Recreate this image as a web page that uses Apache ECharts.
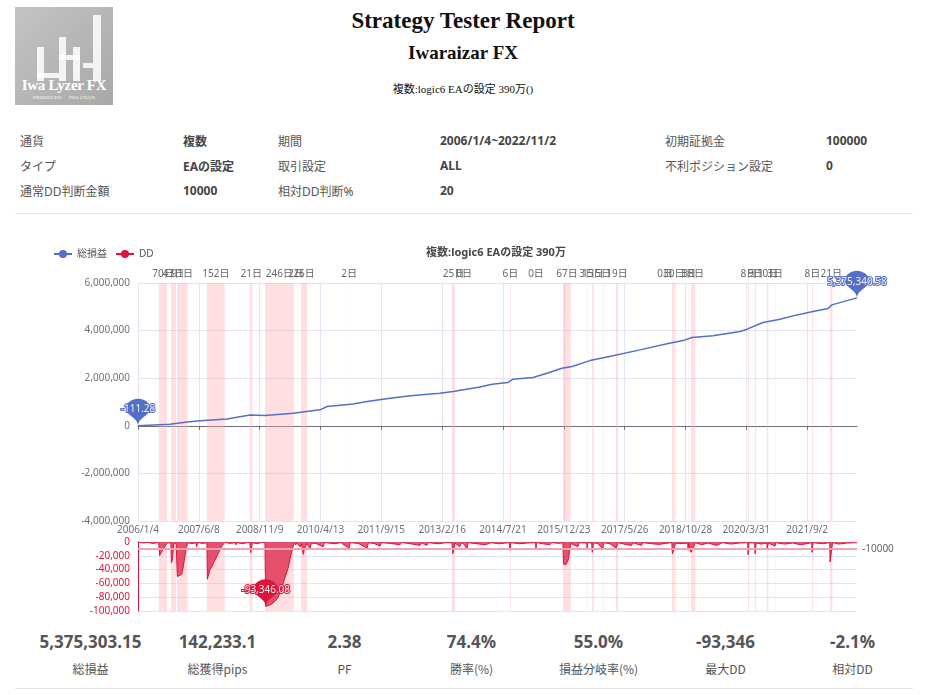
<!DOCTYPE html>
<html>
<head>
<meta charset="utf-8">
<script src="https://cdn.jsdelivr.net/npm/echarts@6/dist/echarts.min.js"></script>
<style>
body { margin: 0; width: 933px; height: 695px; background: #fff; position: relative; overflow: hidden;
       font-family: "Noto Sans", "Noto Sans CJK JP", sans-serif; color: #555; }
.abs { position: absolute; }
#logo { left: 15px; top: 7px; width: 98px; height: 98px; background: linear-gradient(135deg, #c4c4c4, #a8a8a8); overflow: hidden; }
#logo .bar { position: absolute; background: rgba(255,255,255,0.85); }
#logo .name { position: absolute; left: 0; width: 98px; top: 70px; text-align: center; color: #fff;
              font-family: "Liberation Serif", serif; font-weight: bold; font-size: 15px; letter-spacing: -0.3px; }
#logo .sub { position: absolute; left: 0; width: 98px; top: 88px; text-align: center; color: #fff;
             font-family: "Liberation Serif", serif; font-size: 5px; letter-spacing: 0.2px; }
.head { left: 0; width: 926px; text-align: center; color: #111; font-family: "Liberation Serif", serif; font-weight: bold; }
.info td { font-size: 12px; height: 25px; padding: 0; white-space: nowrap; }
.info td.v { font-weight: bold; color: #444; }
.rule { left: 15px; width: 898px; height: 1px; background: #e3e3e3; }
.stat { width: 127px; text-align: center; }
.stat .num { font-weight: bold; font-size: 17px; color: #555; }
.stat .lab { font-size: 12px; color: #555; margin-top: 7px; font-family: "Noto Sans CJK JP", sans-serif; }
</style>
</head>
<body>
<div id="logo" class="abs">
  <div class="bar" style="left:22px;top:40px;width:7px;height:34px;"></div>
  <div class="bar" style="left:22px;top:66px;width:22px;height:5px;"></div>
  <div class="bar" style="left:44px;top:30px;width:7px;height:44px;"></div>
  <div class="bar" style="left:58px;top:40px;width:7px;height:34px;"></div>
  <div class="bar" style="left:44px;top:48px;width:21px;height:5px;"></div>
  <div class="bar" style="left:78px;top:8px;width:8px;height:66px;"></div>
  <div class="bar" style="left:68px;top:56px;width:10px;height:5px;"></div>
  <div class="name">Iwa Lyzer FX</div>
  <div class="sub">PRODUCED &nbsp;&nbsp;&nbsp; IWA CHAN</div>
</div>
<div class="abs head" style="top:8px;font-size:23px;">Strategy Tester Report</div>
<div class="abs head" style="top:42px;font-size:19px;">Iwaraizar FX</div>
<div class="abs head" style="top:80px;font-size:11px;font-weight:normal;font-family:'Liberation Serif','Noto Sans CJK JP',serif;">複数:logic6 EAの設定 390万()</div>

<table class="abs info" style="left:20px;top:128px;border-collapse:collapse;font-family:'Noto Sans','Noto Sans CJK JP',sans-serif;">
  <tr><td style="width:163px">通貨</td><td class="v" style="width:95px">複数</td><td style="width:162px">期間</td><td class="v" style="width:225px">2006/1/4~2022/11/2</td><td style="width:161px">初期証拠金</td><td class="v">100000</td></tr>
  <tr><td>タイプ</td><td class="v">EAの設定</td><td>取引設定</td><td class="v">ALL</td><td>不利ポジション設定</td><td class="v">0</td></tr>
  <tr><td>通常DD判断金額</td><td class="v">10000</td><td>相対DD判断%</td><td class="v">20</td><td></td><td></td></tr>
</table>
<div class="abs rule" style="top:213px;"></div>

<div id="chart" class="abs" style="left:0;top:230px;width:933px;height:390px;"></div>

<div id="stats" class="abs" style="left:27px;top:630px;display:flex;"></div>
<div class="abs rule" style="top:688px;"></div>

<script>
// 日付カテゴリ (2006/1/4 ~ 2022/11/2 の毎日)
var startDay = Date.UTC(2006, 0, 4);
var endDay = Date.UTC(2022, 10, 2);
var days = [];
for (var t = startDay; t <= endDay; t += 86400000) {
    var d = new Date(t);
    days.push(d.getUTCFullYear() + '/' + (d.getUTCMonth() + 1) + '/' + d.getUTCDate());
}

// 総損益
var profitPoints = [
    ['2006/1/4', -111.28], ['2006/10/5', 70000], ['2007/2/27', 155000], ['2007/6/18', 210000],
    ['2008/2/4', 290000], ['2008/8/18', 450000], ['2008/12/25', 430000], ['2009/8/21', 530000],
    ['2010/4/9', 670000], ['2010/6/8', 810000], ['2011/1/16', 920000], ['2011/5/16', 1020000],
    ['2011/11/28', 1160000], ['2012/6/12', 1270000], ['2013/1/28', 1370000], ['2013/5/20', 1440000],
    ['2014/1/5', 1630000], ['2014/4/18', 1750000], ['2014/9/2', 1820000], ['2014/10/15', 1960000],
    ['2015/4/3', 2030000], ['2015/8/1', 2210000], ['2015/12/7', 2420000], ['2016/3/2', 2490000],
    ['2016/8/3', 2740000], ['2017/2/15', 2940000], ['2017/10/4', 3190000], ['2018/5/23', 3450000],
    ['2018/10/7', 3580000], ['2018/12/23', 3710000], ['2019/6/20', 3780000], ['2020/2/6', 3960000],
    ['2020/4/6', 4060000], ['2020/8/21', 4340000], ['2021/1/13', 4480000], ['2021/6/7', 4660000],
    ['2021/10/22', 4800000], ['2022/2/27', 4930000], ['2022/4/2', 5080000], ['2022/8/8', 5260000],
    ['2022/11/2', 5375340.58]
];

// DD
var ddPoints = [
    ['2006/1/4', 0], ['2006/2/20', -1500], ['2006/3/25', -500], ['2006/5/10', -2000], ['2006/6/30', -800],
    ['2006/7/8', -19500], ['2006/7/30', -13000], ['2006/8/25', -6000], ['2006/9/10', -1200],
    ['2006/10/12', -1500], ['2006/10/16', -30000], ['2006/10/24', -27000], ['2006/11/6', -3000], ['2006/11/26', -900],
    ['2006/12/2', -2500], ['2006/12/6', -50000], ['2006/12/22', -48000], ['2007/1/12', -47000], ['2007/1/22', -40000],
    ['2007/2/6', -24000], ['2007/2/22', -8000], ['2007/3/5', -1000], ['2007/4/10', -2500],
    ['2007/5/14', -1000], ['2007/5/21', -7000], ['2007/5/28', -800], ['2007/7/10', -2000],
    ['2007/8/16', -1200], ['2007/8/20', -54000], ['2007/9/11', -40000], ['2007/9/25', -37000], ['2007/10/10', -31000],
    ['2007/11/21', -17000], ['2007/12/20', -6000], ['2008/1/17', -500], ['2008/3/1', -2000],
    ['2008/4/15', -1000], ['2008/4/21', -4000], ['2008/4/28', -800], ['2008/6/15', -2500], ['2008/7/25', -1000],
    ['2008/8/17', -800], ['2008/8/24', -15500], ['2008/9/8', -1000], ['2008/10/20', -2500], ['2008/12/1', -500],
    ['2008/12/24', -300], ['2008/12/31', -93346.08], ['2009/2/19', -90000], ['2009/3/20', -86000],
    ['2009/4/16', -80000], ['2009/5/15', -68000], ['2009/6/13', -52000], ['2009/7/10', -38000],
    ['2009/7/25', -26000], ['2009/8/28', -2000], ['2009/9/15', -4000], ['2009/9/20', -1000],
    ['2009/10/20', -7000], ['2009/11/2', -3000], ['2009/11/17', -18000], ['2009/11/28', -9000],
    ['2009/12/19', -2000], ['2010/1/13', -10000], ['2010/1/25', -1500], ['2010/3/10', -2500],
    ['2010/5/6', -7000], ['2010/5/18', -800], ['2010/8/10', -2500], ['2010/10/5', -1000],
    ['2010/12/13', -9000], ['2010/12/25', -1000], ['2011/3/1', -2000], ['2011/5/16', -9000],
    ['2011/5/28', -1000], ['2011/7/20', -2500], ['2011/9/4', -6000], ['2011/9/16', -1000],
    ['2011/12/1', -2000], ['2012/2/21', -4000], ['2012/3/5', -800], ['2012/5/20', -2500],
    ['2012/8/10', -5000], ['2012/8/22', -1000], ['2012/10/8', -5000], ['2012/10/20', -1000],
    ['2013/1/15', -2500], ['2013/3/20', -1000], ['2013/5/11', -1000], ['2013/5/18', -17000],
    ['2013/6/5', -1500], ['2013/7/17', -7000], ['2013/7/28', -1000], ['2013/8/22', -3000],
    ['2013/9/15', -10000], ['2013/9/27', -1000], ['2013/12/10', -2500], ['2014/2/20', -4000],
    ['2014/4/10', -1000], ['2014/6/15', -2500], ['2014/9/12', -1000], ['2014/9/20', -12000],
    ['2014/9/26', -1000], ['2014/12/10', -2500], ['2015/2/15', -1500], ['2015/4/26', -1000],
    ['2015/4/29', -11000], ['2015/5/3', -800], ['2015/6/25', -2500], ['2015/8/26', -4000],
    ['2015/9/10', -800], ['2015/11/10', -2000], ['2015/12/15', -1000], ['2015/12/20', -32000],
    ['2016/1/10', -33000], ['2016/1/30', -26000], ['2016/2/21', -2000], ['2016/4/21', -7000],
    ['2016/5/2', -1000], ['2016/7/6', -1500], ['2016/7/9', -11000], ['2016/7/14', -1000],
    ['2016/8/17', -1500], ['2016/8/22', -15000], ['2016/9/3', -1000], ['2016/10/10', -2500],
    ['2016/11/21', -10000], ['2016/11/27', -1000], ['2017/1/20', -2500], ['2017/3/13', -9000],
    ['2017/4/1', -1000], ['2017/5/20', -3000], ['2017/7/24', -5000], ['2017/8/5', -1000],
    ['2017/10/17', -5000], ['2017/10/28', -1000], ['2018/1/15', -2500], ['2018/3/20', -3500],
    ['2018/5/6', -2000], ['2018/7/3', -1000], ['2018/7/8', -17500], ['2018/8/4', -1500],
    ['2018/9/20', -2500], ['2018/11/16', -1500], ['2018/11/19', -12000], ['2018/11/23', -1500],
    ['2018/12/14', -15000], ['2019/1/21', -1000], ['2019/3/15', -4000], ['2019/5/10', -1500],
    ['2019/7/20', -5000], ['2019/9/10', -1000], ['2019/11/20', -3000], ['2020/2/1', -1500],
    ['2020/4/12', -1000], ['2020/4/15', -18500], ['2020/4/23', -1000], ['2020/6/11', -1500],
    ['2020/6/14', -17000], ['2020/6/23', -1500], ['2020/8/5', -3000], ['2020/9/23', -1500],
    ['2020/9/25', -10000], ['2020/10/5', -1500], ['2020/12/2', -6000], ['2020/12/5', -1000],
    ['2021/2/20', -3000], ['2021/5/1', -1500], ['2021/7/10', -4000], ['2021/10/11', -1000],
    ['2021/10/14', -15000], ['2021/10/22', -1000], ['2022/1/10', -2500], ['2022/3/14', -1000],
    ['2022/3/17', -29000], ['2022/4/7', -1000], ['2022/6/1', -3000], ['2022/8/10', -1500],
    ['2022/11/2', -1000]
];

// DD期間 [日数ラベル, 開始, 終了]
var ddPeriods = [
    ['70日', '2006/7/1', '2006/9/9'], ['43日', '2006/10/13', '2006/11/25'], ['91日', '2006/12/3', '2007/3/4'],
    ['152日', '2007/8/17', '2008/1/16'], ['21日', '2008/8/18', '2008/9/8'], ['246日', '2008/12/25', '2009/8/28'],
    ['2日', '2009/9/15', '2009/9/17'], ['26日', '2009/10/28', '2009/12/19'], ['2日', '2010/12/13', '2010/12/15'],
    ['25日', '2013/5/11', '2013/6/5'], ['0日', '2013/8/22', '2013/8/22'], ['6日', '2014/9/19', '2014/9/25'],
    ['0日', '2015/4/29', '2015/4/29'], ['67日', '2015/12/16', '2016/2/21'], ['3日', '2016/7/8', '2016/7/11'],
    ['15日', '2016/8/19', '2016/9/3'], ['5日', '2016/11/21', '2016/11/26'], ['19日', '2017/3/13', '2017/4/1'],
    ['0日', '2018/5/6', '2018/5/6'], ['30日', '2018/7/5', '2018/8/4'], ['3日', '2018/11/18', '2018/11/21'],
    ['38日', '2018/12/14', '2019/1/21'], ['8日', '2020/4/14', '2020/4/22'], ['9日', '2020/6/13', '2020/6/22'],
    ['10日', '2020/9/24', '2020/10/4'], ['3日', '2020/12/1', '2020/12/4'], ['8日', '2021/10/13', '2021/10/21'],
    ['21日', '2022/3/16', '2022/4/6']
];

var ddLimit = -10000;
var statValues = ['5,375,303.15', '142,233.1', '2.38', '74.4%', '55.0%', '-93,346', '-2.1%'];
var statLabels = ['総損益', '総獲得pips', 'PF', '勝率(%)', '損益分岐率(%)', '最大DD', '相対DD'];

var statsHtml = '';
for (var i = 0; i < statValues.length; i++) {
    statsHtml += '<div class="stat"><div class="num">' + statValues[i] + '</div><div class="lab">' + statLabels[i] + '</div></div>';
}
document.getElementById('stats').innerHTML = statsHtml;

var blue = '#5470c6';
var red = '#dc143c';
var bandColor = 'rgba(255, 170, 178, 0.38)';

var areaData = ddPeriods.map(function (p) {
    return [{ name: p[0], xAxis: p[1] }, { xAxis: p[2] }];
});
var pinLabel = {
    fontSize: 10,
    formatter: function (p) { return echarts.format.addCommas(p.value); }
};

var myChart = echarts.init(document.getElementById('chart'));
var option = {
    animation: false,
    textStyle: { fontFamily: '"Noto Sans", "Noto Sans CJK JP", sans-serif' },
    title: {
        text: '複数:logic6 EAの設定 390万',
        left: 491,
        top: 12,
        textAlign: 'center',
        textStyle: { fontSize: 11, fontWeight: 'bold', color: '#464646' }
    },
    legend: {
        left: 48,
        top: 14,
        itemWidth: 18,
        itemHeight: 10,
        itemGap: 8,
        textStyle: { fontSize: 10, color: '#555' },
        data: ['総損益', 'DD']
    },
    grid: [
        { left: 138, right: 76, top: 53, height: 238 },
        { left: 138, right: 76, top: 312, height: 69 }
    ],
    xAxis: [
        {
            type: 'category', gridIndex: 0, data: days, boundaryGap: false,
            axisLabel: { show: false },
            axisTick: { interval: 519, length: 4 },
            axisLine: { onZero: true, lineStyle: { color: '#6e7079' } },
            splitLine: { show: true, interval: 519, lineStyle: { color: '#e0e6f1' } }
        },
        {
            type: 'category', gridIndex: 1, data: days, boundaryGap: false, position: 'top',
            axisLabel: { interval: 519, fontSize: 10, color: '#6e7079', margin: 7 },
            axisTick: { show: false },
            axisLine: { show: false },
            splitLine: { show: false }
        }
    ],
    yAxis: [
        {
            type: 'value', gridIndex: 0, min: -4000000, max: 6000000, interval: 2000000,
            axisLabel: { fontSize: 10, color: '#6e7079' },
            splitLine: { lineStyle: { color: '#e0e6f1' } }
        },
        {
            type: 'value', gridIndex: 1, min: -100000, max: 0, interval: 20000,
            axisLine: { show: true, lineStyle: { color: red } },
            axisLabel: { fontSize: 10, color: red },
            splitLine: { lineStyle: { color: '#e0e6f1' } }
        }
    ],
    series: [
        {
            name: '総損益', type: 'line', xAxisIndex: 0, yAxisIndex: 0,
            data: profitPoints, symbol: 'circle', showSymbol: false,
            itemStyle: { color: blue },
            lineStyle: { color: blue, width: 1.5 },
            markPoint: {
                symbol: 'pin', symbolSize: [40, 31],
                label: pinLabel,
                data: [{ type: 'max' }, { type: 'min' }]
            },
            markArea: {
                silent: true,
                itemStyle: { color: bandColor },
                label: { position: 'top', fontSize: 10, color: '#666', distance: 4 },
                data: areaData
            }
        },
        {
            name: 'DD', type: 'line', xAxisIndex: 1, yAxisIndex: 1,
            data: ddPoints, symbol: 'circle', showSymbol: false,
            itemStyle: { color: red },
            lineStyle: { color: red, width: 1 },
            areaStyle: { color: red, opacity: 0.7 },
            markPoint: {
                symbol: 'pin', symbolSize: [40, 31],
                label: pinLabel,
                data: [{ type: 'min' }]
            },
            markLine: {
                silent: true, symbol: 'none',
                lineStyle: { color: '#f2a5b1', width: 2, type: 'solid' },
                label: { position: 'end', fontSize: 10, color: '#666', formatter: String(ddLimit) },
                data: [{ yAxis: ddLimit }]
            },
            markArea: {
                silent: true,
                itemStyle: { color: bandColor },
                label: { show: false },
                data: areaData
            }
        }
    ]
};
myChart.setOption(option);
</script>
</body>
</html>
